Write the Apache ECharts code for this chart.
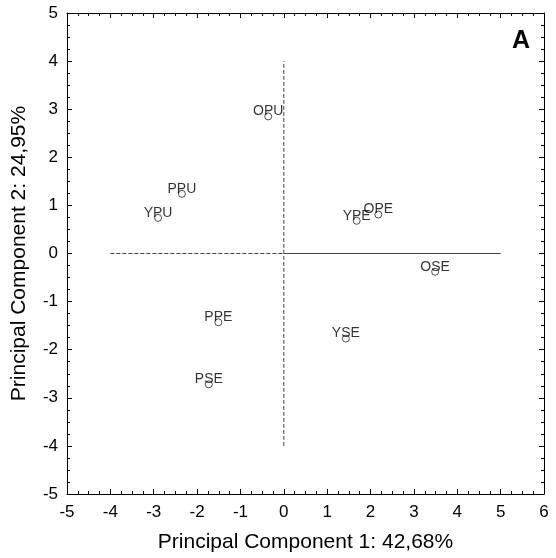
<!DOCTYPE html>
<html>
<head>
<meta charset="utf-8">
<script src="https://cdn.jsdelivr.net/npm/echarts@6/dist/echarts.min.js"></script>
<style>
	html, body { margin: 0; padding: 0; background: #fff; }
	#main-echart { width: 556px; height: 558px; }
</style>
</head>
<body>
<div id="main-echart"></div>
<script>
	// samples and their scores on PC1 / PC2
	const sample_names = ['OPU', 'PPU', 'YPU', 'YPE', 'OPE', 'OSE', 'PPE', 'YSE', 'PSE'];
	const pc1_values = [-0.36, -2.35, -2.90, 1.68, 2.18, 3.49, -1.51, 1.43, -1.73];
	const pc2_values = [2.85, 1.24, 0.74, 0.68, 0.81, -0.38, -1.43, -1.77, -2.72];

	// reference lines through the origin
	const ref_dash_h = [[-4, 0], [0, 0]];
	const ref_solid_h = [[0, 0], [5, 0]];
	const ref_dash_v = [[0, -4], [0, 4]];

	const x_name = 'Principal Component 1: 42,68%';
	const y_name = 'Principal Component 2: 24,95%';
	const panel_tag = 'A';

	try {
		let myChart = echarts.init(document.getElementById('main-echart'));
		const font = 'Liberation Sans, Arial, sans-serif';

		const points = sample_names.map((n, i) => ({ name: n, value: [pc1_values[i], pc2_values[i]] }));

		const axisBase = (extra) => Object.assign({
			type: 'value',
			axisLine: { show: true, onZero: false, lineStyle: { color: '#000', width: 1 } },
			axisTick: { show: true, inside: true, length: 5, lineStyle: { color: '#000' } },
			minorTick: { show: true, splitNumber: 4, length: 3, lineStyle: { color: '#000' } },
			splitLine: { show: false },
			axisLabel: { show: false }
		}, extra);

		const lineSeries = (data, type) => ({
			type: 'line',
			data: data,
			symbol: 'none',
			silent: true,
			lineStyle: { color: '#444', width: 1, type: type },
			z: 1
		});

		let option = {
			animation: false,
			backgroundColor: '#fff',
			grid: { left: 67, right: 12, top: 13, bottom: 61 },
			xAxis: [
				axisBase({
					position: 'bottom', min: -5, max: 6, interval: 1,
					name: x_name, nameLocation: 'middle', nameGap: 38,
					nameTextStyle: { fontFamily: font, fontSize: 21, color: '#000' },
					axisLabel: { show: true, margin: 10, fontFamily: font, fontSize: 17, color: '#000' }
				}),
				axisBase({ position: 'top', min: -5, max: 6, interval: 1 })
			],
			yAxis: [
				axisBase({
					position: 'left', min: -5, max: 5, interval: 1,
					name: y_name, nameLocation: 'middle', nameGap: 37,
					nameTextStyle: { fontFamily: font, fontSize: 21, color: '#000' },
					axisLabel: { show: true, margin: 9, fontFamily: font, fontSize: 17, color: '#000' }
				}),
				axisBase({ position: 'right', min: -5, max: 5, interval: 1 })
			],
			graphic: [{
				type: 'text',
				left: 512,
				top: 29,
				style: { text: panel_tag, font: 'bold 25px ' + font, fill: '#000' }
			}],
			series: [
				lineSeries(ref_dash_h, 'dashed'),
				lineSeries(ref_solid_h, 'solid'),
				lineSeries(ref_dash_v, 'dashed'),
				{
					type: 'scatter',
					data: points,
					symbol: 'circle',
					symbolSize: 7,
					itemStyle: { color: '#fff', borderColor: '#222', borderWidth: 1 },
					label: {
						show: true,
						position: 'top',
						distance: -6,
						formatter: '{b}',
						fontFamily: font,
						fontSize: 14,
						color: '#000'
					},
					z: 3
				}
			]
		};

		myChart.setOption(option);
	} catch (e) {
		console.log(e);
	}
</script>
</body>
</html>
